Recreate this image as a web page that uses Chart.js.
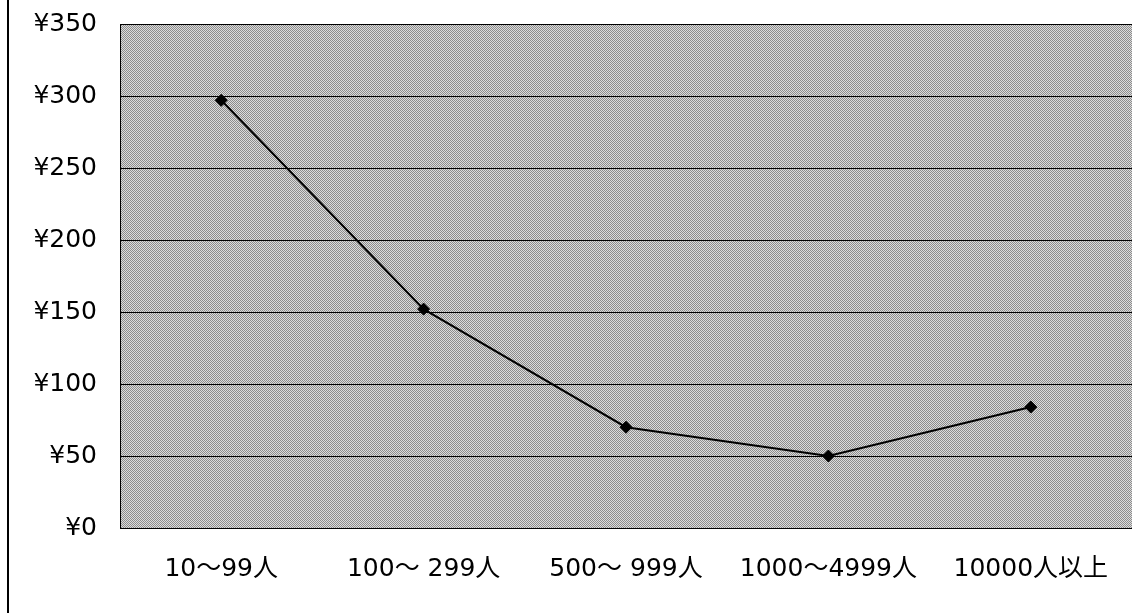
<!DOCTYPE html>
<html>
<head>
<meta charset="utf-8">
<script src="https://cdn.jsdelivr.net/npm/chart.js@4"></script>
<style>
    html, body { margin: 0; padding: 0; background: #fff; }
    #wrap { position: relative; width: 1132px; height: 613px; }
    #frame { position: absolute; left: 7px; top: 0; width: 2px; height: 613px; background: #000; }
</style>
</head>
<body>
<div id="wrap">
    <div id="frame"></div>
    <canvas id="costChart" width="1132" height="613"></canvas>
</div>
<script>
const categories = ['10〜99人', '100〜 299人', '500〜 999人', '1000〜4999人', '10000人以上'];
const costValues = [297, 152, 70, 50, 84];
const yTicks = [0, 50, 100, 150, 200, 250, 300, 350];

// dithered gray fill like the scanned original
function makePattern(ctx) {
    const c = document.createElement('canvas');
    c.width = 2;
    c.height = 2;
    const p = c.getContext('2d');
    p.fillStyle = '#dcdcdc';
    p.fillRect(0, 0, 2, 2);
    p.fillStyle = '#8c8c8c';
    p.fillRect(0, 0, 1, 1);
    p.fillRect(1, 1, 1, 1);
    return ctx.createPattern(c, 'repeat');
}

const plotBackground = {
    id: 'plotBackground',
    beforeDraw(chart) {
        const { ctx, chartArea } = chart;
        ctx.save();
        ctx.fillStyle = makePattern(ctx);
        ctx.fillRect(chartArea.left, chartArea.top, chartArea.right - chartArea.left, chartArea.bottom - chartArea.top);
        ctx.restore();
    }
};

const labelFont = { family: '"DejaVu Sans", "Noto Sans CJK JP"', size: 25 };

const ctx = document.getElementById('costChart').getContext('2d');
const costChart = new Chart(ctx, {
    type: 'line',
    data: {
        labels: categories,
        datasets: [{
            data: costValues,
            borderColor: '#000',
            backgroundColor: '#000',
            borderWidth: 2,
            pointStyle: 'rectRot',
            pointRadius: 6,
            pointHoverRadius: 6,
            pointBorderWidth: 1,
            tension: 0
        }]
    },
    options: {
        responsive: false,
        animation: false,
        layout: {
            autoPadding: false,
            padding: { top: 24, right: 0, left: 0, bottom: 0 }
        },
        plugins: {
            legend: { display: false },
            tooltip: { enabled: false }
        },
        scales: {
            x: {
                offset: true,
                grid: { display: false, drawTicks: false },
                border: { display: true, color: '#000', width: 1 },
                ticks: {
                    color: '#000',
                    padding: 26,
                    maxRotation: 0,
                    autoSkip: false,
                    font: labelFont
                },
                afterFit(scale) {
                    scale.height = 85;
                    scale.paddingLeft = 0;
                    scale.paddingRight = 0;
                }
            },
            y: {
                min: 0,
                max: 350,
                afterBuildTicks(scale) {
                    scale.ticks = yTicks.map(v => ({ value: v }));
                },
                grid: { color: '#000', lineWidth: 1, drawTicks: false },
                border: { display: true, color: '#000', width: 1 },
                ticks: {
                    color: '#000',
                    padding: 23,
                    font: labelFont,
                    callback: v => '¥' + v
                },
                afterFit(scale) {
                    scale.width = 120;
                    scale.paddingTop = 0;
                    scale.paddingBottom = 0;
                }
            }
        }
    },
    plugins: [plotBackground]
});
</script>
</body>
</html>
